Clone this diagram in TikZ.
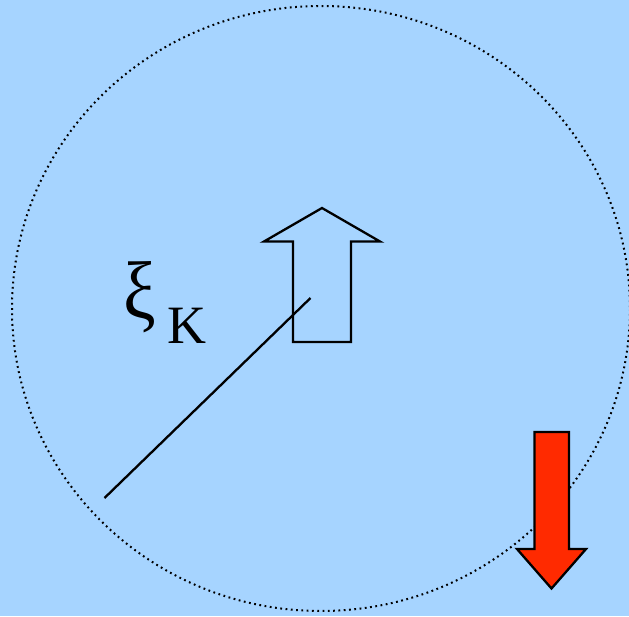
\documentclass[tikz,border=0pt]{standalone}
\usepackage{fontspec}
\setmainfont{Liberation Serif}
\definecolor{skyback}{RGB}{166,212,255}
\definecolor{spinred}{RGB}{255,42,0}

\begin{document}
\begin{tikzpicture}[x=1pt,y=-1pt,line join=miter]
        \fill[skyback] (0,0) rectangle (629,616);
        \useasboundingbox (0,0) rectangle (629,616);
        \clip (0,0) rectangle (629,616);

        \coordinate (O) at (321,308.5);
        \coordinate (A) at (104.5,498);
        \coordinate (B) at (310.5,298);

        \draw[line width=2pt, dash pattern=on 1.8pt off 3.5pt] (O) ellipse [x radius=309, y radius=302.5];

        \draw[line width=2.3pt] (A) -- (B);

        \draw[line width=2.3pt] (322,208) -- (380,241.5) -- (351,241.5) -- (351,342)
            -- (293,342) -- (293,241.5) -- (264,241.5) -- cycle;

        \draw[line width=2.3pt, fill=spinred] (534.5,432) -- (569,432) -- (569,549) -- (586,549)
            -- (551.5,588.5) -- (517,549) -- (534.5,549) -- cycle;

        \node[anchor=base west, inner sep=0pt, font=\fontsize{77}{80}\selectfont] (xiK) at (123,318.5)
            {\scalebox{0.95}[1.06]{ξ}\hspace{12pt}\raisebox{-24.5pt}{\fontsize{54}{60}\selectfont K}};
    \end{tikzpicture}
\end{document}
